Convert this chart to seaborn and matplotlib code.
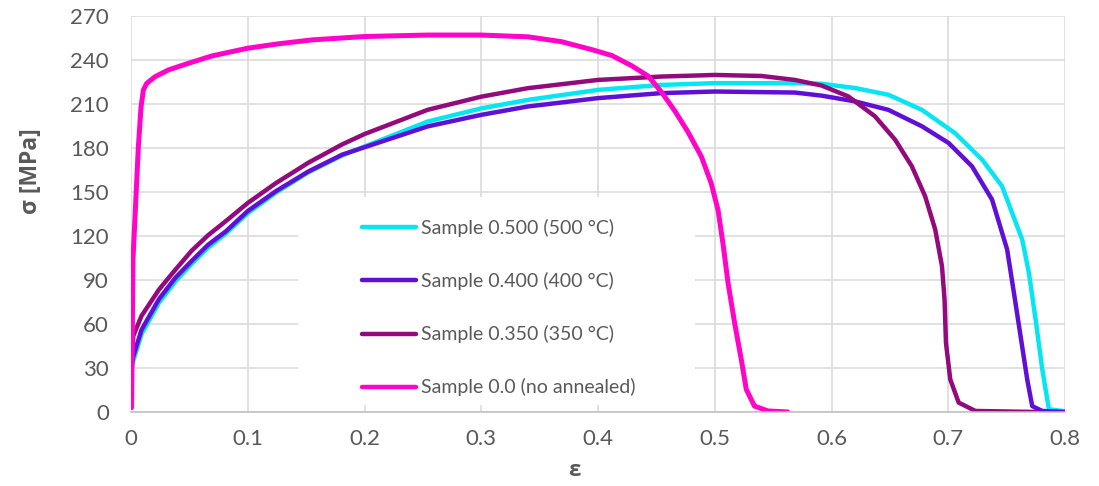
import matplotlib
matplotlib.use("Agg")
import matplotlib.pyplot as plt
import pandas as pd
import seaborn as sns
from matplotlib.patches import Rectangle

# series, in legend / drawing order
labels = ["Sample 0.500 (500 °C)", "Sample 0.400 (400 °C)",
          "Sample 0.350 (350 °C)", "Sample 0.0 (no annealed)"]
colors = ["#05E6F2", "#5F0FD6", "#920A7C", "#FF05C8"]

strain_500 = [0.0, 0.002, 0.009, 0.024, 0.038, 0.052, 0.066, 0.081, 0.1, 0.124,
              0.152, 0.181, 0.2, 0.254, 0.3, 0.34, 0.4, 0.454, 0.5, 0.5686,
              0.5914, 0.62, 0.6487, 0.6774, 0.706, 0.729, 0.746, 0.7633, 0.769,
              0.7748, 0.7805, 0.7862, 0.8]
stress_500 = [28, 35, 53, 74.5, 89, 101, 112, 121.5, 135.5, 149.5,
              163.5, 175, 181, 198, 207, 212.8, 219.6, 223, 224.2, 224.2,
              223.8, 220.9, 216.3, 206, 190, 172, 154, 117.6, 95,
              63, 29, 1.8, 0.5]

strain_400 = [0.0, 0.002, 0.009, 0.024, 0.038, 0.052, 0.066, 0.081, 0.1, 0.124,
              0.152, 0.181, 0.2, 0.254, 0.3, 0.34, 0.4, 0.454, 0.5, 0.5686,
              0.5914, 0.62, 0.6487, 0.6774, 0.7003, 0.7203, 0.7375, 0.7504, 0.7562,
              0.7619, 0.7676, 0.7719, 0.7805, 0.8]
stress_400 = [30, 38, 56, 77, 91.5, 103, 114, 123, 137, 150.5,
              164, 175.5, 180.5, 194.7, 202.6, 208.3, 214, 217.4, 218.5, 217.8,
              215.7, 211.8, 206, 194.8, 183.4, 167.5, 144.8, 110.8, 81.3,
              51.8, 22.2, 4, 0.7, 0]

strain_350 = [0.0, 0.002, 0.009, 0.024, 0.038, 0.052, 0.066, 0.081, 0.1, 0.124,
              0.152, 0.181, 0.2, 0.254, 0.3, 0.34, 0.4, 0.454, 0.5, 0.54,
              0.5686, 0.5914, 0.6143, 0.6372, 0.6544, 0.6688, 0.6802, 0.6888, 0.6946,
              0.6968, 0.698, 0.7017, 0.7089, 0.7232, 0.7748]
stress_350 = [32, 52, 65.5, 83.5, 97, 110, 120.5, 130, 142.5, 156,
              170, 182.5, 189.5, 206, 215, 220.8, 226.4, 228.7, 229.8, 229.1,
              226.4, 222.6, 215.2, 201.6, 185.7, 167.5, 147, 124.4, 99.4,
              76.7, 47.2, 22.2, 6.4, 0.7, 0]

strain_0 = [0.0005, 0.0017, 0.0063, 0.0086, 0.0106, 0.0134, 0.0206, 0.032, 0.049,
            0.069, 0.0997, 0.126, 0.155, 0.2, 0.254, 0.3, 0.34, 0.3686, 0.395,
            0.412, 0.429, 0.443, 0.4545, 0.466, 0.477, 0.4886, 0.497, 0.5028,
            0.507, 0.5114, 0.517, 0.5227, 0.527, 0.534, 0.5455, 0.5625]
stress_0 = [3, 104, 180.7, 208, 219.5, 224, 228.6, 233.2, 237.7,
            242.7, 248, 251, 253.7, 256, 257, 257, 255.8, 252.5, 247,
            243, 236, 229, 218, 205, 191, 174, 155.8, 137.6,
            115, 87.8, 60.7, 35.8, 15.4, 4, 0.7, 0]

x_ticks = [0, 0.1, 0.2, 0.3, 0.4, 0.5, 0.6, 0.7, 0.8]
x_ticklabels = ["0", "0.1", "0.2", "0.3", "0.4", "0.5", "0.6", "0.7", "0.8"]
y_ticks = [0, 30, 60, 90, 120, 150, 180, 210, 240, 270]

sns.set_style("white")
plt.rcParams['font.family'] = ['Lato', 'DejaVu Sans']
text_col = "#595959"

frames = []
for lab, xs, ys in zip(labels,
                       [strain_500, strain_400, strain_350, strain_0],
                       [stress_500, stress_400, stress_350, stress_0]):
    frames.append(pd.DataFrame({"strain": xs, "stress": ys, "sample": lab}))
df = pd.concat(frames, ignore_index=True)

fig = plt.figure(figsize=(10.99, 4.86), dpi=100)
ax = fig.add_axes([0.1192, 0.1523, 0.8499, 0.8148])

sns.lineplot(data=df, x="strain", y="stress", hue="sample", hue_order=labels,
             palette=colors, sort=False, estimator=None, linewidth=3.2, ax=ax)
for ln in ax.get_lines():
    ln.set_solid_joinstyle("round")
    ln.set_solid_capstyle("round")
ax.get_lines()[3].set_linewidth(3.6)

ax.set_xlim(0, 0.8)
ax.set_ylim(0, 270)
ax.set_xticks(x_ticks)
ax.set_xticklabels(x_ticklabels)
ax.set_yticks(y_ticks)
ax.set_axisbelow(True)
ax.grid(True, color="#D9D9D9", linewidth=1.1)
for s in ["top", "right", "left"]:
    ax.spines[s].set_visible(False)
ax.spines["bottom"].set_color("#BFBFBF")
ax.spines["bottom"].set_linewidth(1.1)
ax.tick_params(axis="x", length=4, width=1, color="#BFBFBF", labelsize=16,
               labelcolor=text_col, pad=8)
ax.tick_params(axis="y", length=0, labelsize=16, labelcolor=text_col, pad=16)

label_font = ["Open Sans", "DejaVu Sans"]
ax.set_xlabel("ε", fontsize=16, fontweight="bold", color=text_col, family=label_font)
ax.set_ylabel("σ [MPa]", fontsize=16.5, fontweight="bold", color=text_col,
              family=label_font)
ax.xaxis.set_label_coords(0.475, -0.122)
ax.yaxis.set_label_coords(-0.094, 0.609)

# white legend area hiding the grid, like the spreadsheet legend box
ax.add_patch(Rectangle((0.179, 0.018), 0.425, 0.525, transform=ax.transAxes,
                       facecolor="white", edgecolor="none", zorder=1))

handles, _ = ax.get_legend_handles_labels()
leg = ax.legend(handles, labels, loc="upper left", bbox_to_anchor=(0.247, 0.487),
                frameon=False, fontsize=14, handlelength=2.8, handletextpad=0.25,
                labelspacing=1.8, borderpad=0, borderaxespad=0)
for t in leg.get_texts():
    t.set_color(text_col)
for h in leg.get_lines():
    h.set_linewidth(3.2)

fig.savefig("out.png", dpi=100)
